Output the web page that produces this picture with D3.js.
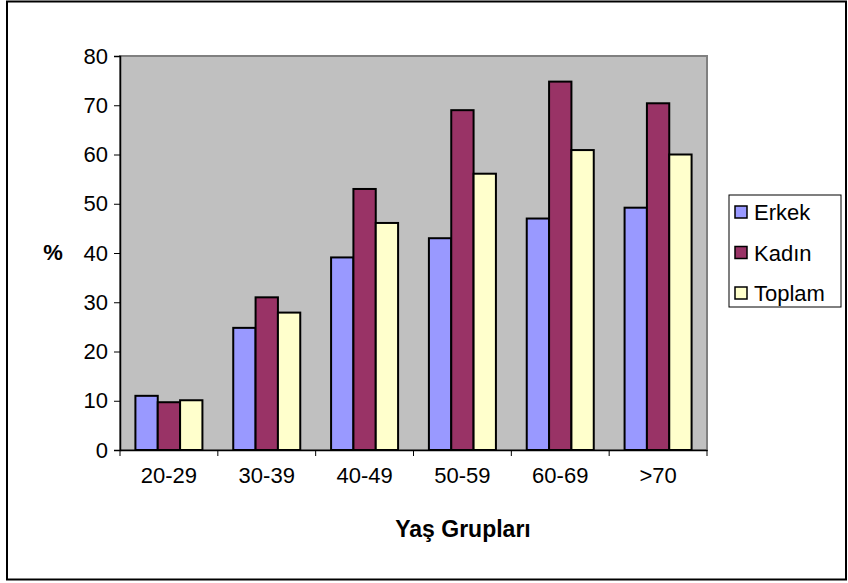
<!DOCTYPE html>
<html><head><meta charset="utf-8">
<script src="https://cdn.jsdelivr.net/npm/d3@7"></script>
<style>body{margin:0;background:#fff}svg{display:block}text{font-family:Arial,"Liberation Sans",sans-serif;fill:#000}</style>
</head><body>
<script>
const categories = ["20-29","30-39","40-49","50-59","60-69",">70"];
const seriesNames = ["Erkek","Kadın","Toplam"];
const erkek  = [11.0, 24.8, 39.1, 43.0, 47.0, 49.2];
const kadin  = [9.7, 31.0, 53.0, 69.0, 74.8, 70.4];
const toplam = [10.1, 27.9, 46.1, 56.1, 60.9, 60.0];
const colors = ["#9999FF","#993366","#FFFFCC"];
const yTicks = [0,10,20,30,40,50,60,70,80];
const xTitle = "Yaş Grupları";
const yTitle = "%";

const W = 848, H = 583;
const svg = d3.select("body").append("svg").attr("width", W).attr("height", H);
svg.append("rect").attr("x",7).attr("y",1.5).attr("width",839).attr("height",578)
  .attr("fill","#fff").attr("stroke","#000").attr("stroke-width",2);

const L = 120, T = 56, R = 707, B = 450;
const x0 = d3.scaleBand().domain(categories).range([L,R]).paddingInner(0).paddingOuter(0);
const x1 = d3.scaleBand().domain(seriesNames).range([0,x0.bandwidth()]).paddingInner(0).paddingOuter(0.69);
const y = d3.scaleLinear().domain([0,80]).range([B,T]);

svg.append("rect").attr("x",L).attr("y",T).attr("width",R-L).attr("height",B-T)
  .attr("fill","#C0C0C0").attr("stroke","#808080").attr("stroke-width",2);

const data = [erkek,kadin,toplam];
const g = svg.append("g");
categories.forEach((c,i)=>{
  seriesNames.forEach((s,j)=>{
    g.append("rect")
      .attr("x", x0(c)+x1(s)).attr("y", y(data[j][i]))
      .attr("width", x1.bandwidth()).attr("height", B - y(data[j][i]))
      .attr("fill", colors[j]).attr("stroke","#000").attr("stroke-width",2);
  });
});

const fs = 22;
const yAxis = svg.append("g").attr("transform",`translate(${L},0)`)
  .call(d3.axisLeft(y).tickValues(yTicks).tickSize(6).tickPadding(6));
yAxis.select(".domain").attr("stroke","#000").attr("stroke-width",1.5);
yAxis.selectAll(".tick line").attr("stroke","#000");
yAxis.selectAll("text").style("font-size",fs+"px").attr("font-family","Arial, Liberation Sans, sans-serif");

const xAxis = svg.append("g").attr("transform",`translate(0,${B})`)
  .call(d3.axisBottom(x0).tickSize(0).tickPadding(17));
xAxis.select(".domain").attr("stroke","#000").attr("stroke-width",1.5);
xAxis.selectAll("text").style("font-size",fs+"px").attr("font-family","Arial, Liberation Sans, sans-serif");
const bounds = categories.map(c=>x0(c)).concat([R]);
svg.append("g").selectAll("line").data(bounds).join("line")
  .attr("x1",d=>d).attr("x2",d=>d).attr("y1",B).attr("y2",B+6).attr("stroke","#000");

svg.append("text").attr("x",463).attr("y",537).attr("text-anchor","middle")
  .style("font-size","23px").style("font-weight","bold").text(xTitle);
svg.append("text").attr("x",53).attr("y",260).attr("text-anchor","middle")
  .style("font-size","22px").style("font-weight","bold").text(yTitle);

const lg = svg.append("g");
lg.append("rect").attr("x",729).attr("y",195).attr("width",112).attr("height",112)
  .attr("fill","#fff").attr("stroke","#000").attr("stroke-width",1);
seriesNames.forEach((s,j)=>{
  const cy = 212 + j*40.5;
  lg.append("rect").attr("x",735).attr("y",cy-6).attr("width",12).attr("height",12)
    .attr("fill",colors[j]).attr("stroke","#000").attr("stroke-width",1.5);
  lg.append("text").attr("x",754).attr("y",cy+8).style("font-size",fs+"px").text(s);
});
</script>
</body></html>
